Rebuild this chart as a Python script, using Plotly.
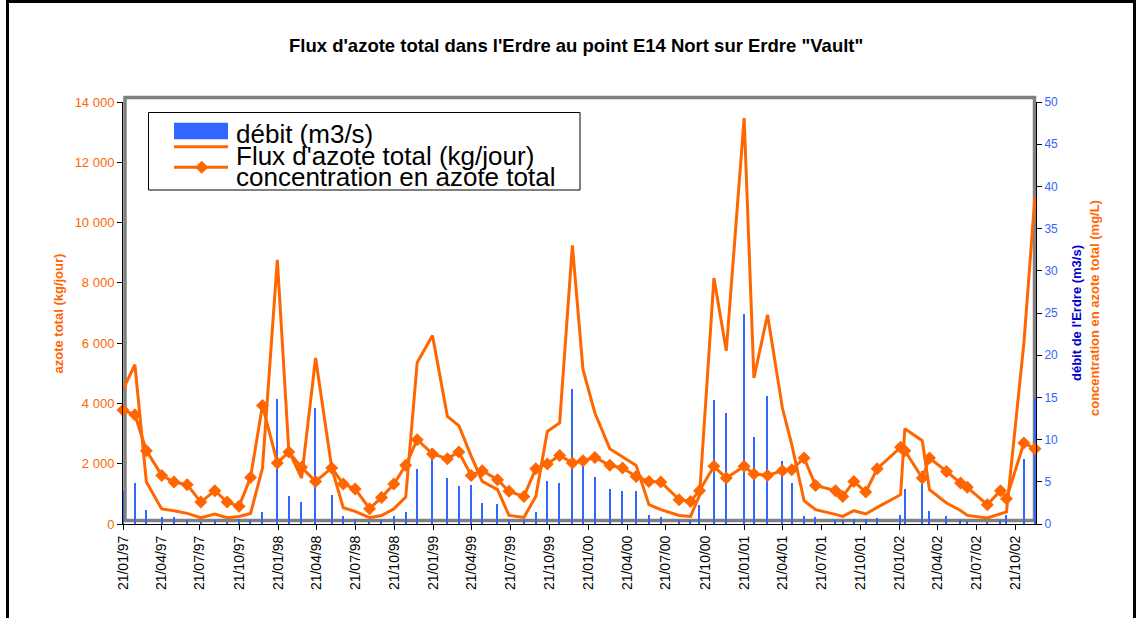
import plotly.graph_objects as go

# Sampling dates (dd/mm/yy on the axis)
dates = [
    "1997-01-21", "1997-02-18", "1997-03-17", "1997-04-22", "1997-05-21", "1997-06-21",
    "1997-07-23", "1997-08-25", "1997-09-23", "1997-10-21", "1997-11-17", "1997-12-15",
    "1998-01-19", "1998-02-15", "1998-03-17", "1998-04-19", "1998-05-27", "1998-06-23",
    "1998-07-21", "1998-08-24", "1998-09-21", "1998-10-20", "1998-11-17", "1998-12-14",
    "1999-01-19", "1999-02-23", "1999-03-22", "1999-04-20", "1999-05-16", "1999-06-21",
    "1999-07-18", "1999-08-22", "1999-09-19", "1999-10-16", "1999-11-14", "1999-12-14",
    "2000-01-08", "2000-02-05", "2000-03-11", "2000-04-10", "2000-05-12", "2000-06-11",
    "2000-07-09", "2000-08-21", "2000-09-17", "2000-10-08", "2000-11-11", "2000-12-10",
    "2001-01-21", "2001-02-13", "2001-03-17", "2001-04-21", "2001-05-13", "2001-06-11",
    "2001-07-08", "2001-08-24", "2001-09-10", "2001-10-06", "2001-11-03", "2001-11-30",
    "2002-01-24", "2002-02-03", "2002-03-16", "2002-04-02", "2002-05-12", "2002-06-14",
    "2002-06-30", "2002-08-16", "2002-09-16", "2002-09-30", "2002-11-10", "2002-12-06",
]

# River discharge (m3/s), right axis
debit = [
    3.86, 4.8, 1.69, 0.78, 0.78, 0.45, 0.19, 0.51, 0.19, 0.55, 0.45, 1.47,
    14.85, 3.27, 2.58, 13.8, 3.47, 1.0, 0.55, 0.19, 0.47, 0.9, 1.37, 6.48,
    9.05, 5.5, 4.55, 4.66, 2.54, 2.41, 0.51, 0.43, 1.46, 5.13, 4.89, 16.04,
    8.0, 5.62, 4.2, 3.96, 3.95, 1.1, 0.88, 0.51, 0.45, 2.25, 14.73, 13.17,
    24.88, 10.35, 15.2, 7.5, 4.9, 0.98, 0.88, 0.51, 0.45, 0.6, 0.6, 0.75,
    1.1, 4.18, 6.32, 1.58, 0.98, 0.59, 0.41, 0.12, 0.51, 1.1, 7.74, 15.0,
]

# Total nitrogen flux (kg/jour), left axis
flux = [
    4455, 5284, 1393, 498, 441, 352, 210, 332, 210, 252, 350, 1850,
    8767, 2430, 1526, 5506, 1860, 540, 420, 210, 280, 500, 890, 5361,
    6257, 3570, 3262, 2250, 1414, 1138, 285, 219, 916, 3072, 3350, 9241,
    5118, 3682, 2498, 2243, 1944, 640, 474, 285, 252, 950, 8160, 5748,
    13467, 4843, 6943, 3848, 2630, 773, 474, 320, 252, 441, 332, 551,
    972, 3161, 2763, 1138, 696, 450, 285, 199, 320, 400, 6000, 10850,
]

# Total nitrogen concentration (mg/L), right axis
conc = [
    13.5, 12.95, 8.69, 5.76, 4.98, 4.66, 2.6, 3.95, 2.6, 2.09, 5.52, 14.05,
    7.23, 8.53, 6.71, 5.05, 6.64, 4.74, 4.15, 1.81, 3.15, 4.74, 6.95, 9.99,
    8.3, 7.74, 8.53, 5.76, 6.32, 5.25, 3.87, 3.27, 6.55, 7.11, 8.13, 7.23,
    7.5, 7.89, 6.95, 6.64, 5.64, 5.05, 4.98, 2.88, 2.68, 3.95, 6.83, 5.45,
    6.83, 5.93, 5.76, 6.32, 6.43, 7.82, 4.57, 3.95, 3.27, 5.05, 3.79, 6.55,
    9.08, 8.69, 5.45, 7.82, 6.23, 4.86, 4.34, 2.29, 3.95, 3.0, 9.6, 8.92,
]

flux_ticks = list(range(0, 14001, 2000))

ORANGE = "#FF6600"
BLUE = "#3366FF"
DARK_BLUE = "#0000CC"
FONT = "Liberation Sans, Arial, sans-serif"

# figure geometry (pixels) used to place decorations in paper coordinates
FIG_W, FIG_H = 1137, 618
L, R, T, B = 123, 101, 102, 94
W, H = FIG_W - L - R, FIG_H - T - B


def px(x):
    return (x - L) / W


def py(y):
    return (T + H - y) / H


DAY_MS = 86400000
bar_width = 3.0 * DAY_MS

fig = go.Figure()

fig.add_trace(go.Bar(
    x=dates, y=debit, yaxis="y2", name="débit (m3/s)",
    width=bar_width, marker=dict(color=BLUE, line=dict(width=0)),
    showlegend=False,
))

fig.add_trace(go.Scatter(
    x=dates, y=flux, mode="lines", name="Flux d'azote total (kg/jour)",
    line=dict(color=ORANGE, width=3), cliponaxis=False, showlegend=False,
))

fig.add_trace(go.Scatter(
    x=dates, y=conc, yaxis="y2", mode="lines+markers",
    name="concentration en azote total",
    line=dict(color=ORANGE, width=3),
    marker=dict(symbol="diamond", size=10, color=ORANGE, line=dict(width=0)),
    cliponaxis=False, showlegend=False,
))

shapes = [
    # outer chart border
    dict(type="rect", xref="paper", yref="paper",
         x0=px(7.5), x1=px(1134.5), y0=py(640), y1=py(1.5),
         line=dict(color="black", width=3), fillcolor="rgba(0,0,0,0)", layer="below"),
    # grey plot-area frame
    dict(type="rect", xref="paper", yref="paper",
         x0=px(125), x1=px(1034.5), y0=py(520.5), y1=py(97.5),
         line=dict(color="#808080", width=3.5), fillcolor="rgba(0,0,0,0)", layer="below"),
    # legend box
    dict(type="rect", xref="paper", yref="paper",
         x0=px(148.5), x1=px(580), y0=py(190), y1=py(112.5),
         line=dict(color="black", width=1), fillcolor="white", layer="above"),
    # legend swatches
    dict(type="rect", xref="paper", yref="paper",
         x0=px(174), x1=px(228), y0=py(139.3), y1=py(122.7),
         line=dict(width=0), fillcolor=BLUE, layer="above"),
    dict(type="line", xref="paper", yref="paper",
         x0=px(174), x1=px(228), y0=py(146.7), y1=py(146.7),
         line=dict(color=ORANGE, width=3), layer="above"),
    dict(type="line", xref="paper", yref="paper",
         x0=px(174), x1=px(228), y0=py(167.3), y1=py(167.3),
         line=dict(color=ORANGE, width=3), layer="above"),
]

# diamond symbol of the concentration legend entry
cx, cy, hw = 201.7, 167.3, 6.5
diamond = "M {},{} L {},{} L {},{} L {},{} Z".format(
    px(cx - hw), py(cy), px(cx), py(cy - hw), px(cx + hw), py(cy), px(cx), py(cy + hw))
shapes.append(dict(type="path", xref="paper", yref="paper", path=diamond,
                   fillcolor=ORANGE, line=dict(width=0), layer="above"))

annotations = [
    dict(text="<b>Flux d'azote total dans l'Erdre au point E14 Nort sur Erdre \"Vault\"</b>",
         x=px(576), y=py(46), xref="paper", yref="paper", xanchor="center", yanchor="middle",
         showarrow=False, font=dict(family=FONT, size=18.5, color="black")),
    dict(text="<b>azote total (kg/jour)</b>", x=px(57.5), y=py(314), xref="paper", yref="paper",
         textangle=-90, xanchor="center", yanchor="middle", showarrow=False,
         font=dict(family=FONT, size=13, color=ORANGE)),
    dict(text="<b>débit de l'Erdre (m3/s)</b>", x=px(1076), y=py(313), xref="paper", yref="paper",
         textangle=-90, xanchor="center", yanchor="middle", showarrow=False,
         font=dict(family=FONT, size=13, color=DARK_BLUE)),
    dict(text="<b>concentration en azote total (mg/L)</b>", x=px(1094), y=py(308),
         xref="paper", yref="paper", textangle=-90, xanchor="center", yanchor="middle",
         showarrow=False, font=dict(family=FONT, size=13, color=ORANGE)),
]

legend_labels = [
    ("débit (m3/s)", 134),
    ("Flux d'azote total (kg/jour)", 156),
    ("concentration en azote total", 177),
]
for label, yc in legend_labels:
    annotations.append(dict(text=label, x=px(234), y=py(yc), xref="paper", yref="paper",
                            xanchor="left", yanchor="middle", showarrow=False,
                            font=dict(family=FONT, size=26, color="black")))

fig.update_layout(
    width=FIG_W, height=FIG_H,
    margin=dict(l=L, r=R, t=T, b=B),
    paper_bgcolor="white", plot_bgcolor="white",
    separators=", ",
    font=dict(family=FONT, color="black"),
    bargap=0,
    showlegend=False,
    xaxis=dict(
        type="date",
        range=["1997-01-21", "2002-12-08 12:00"],
        tickmode="linear", tick0="1997-01-21", dtick="M3",
        tickformat="%d/%m/%y", tickangle=-90,
        ticks="outside", ticklen=5, tickcolor="black",
        showline=True, linecolor="black", linewidth=1,
        showgrid=False, zeroline=False,
        tickfont=dict(family=FONT, size=14, color="black"),
    ),
    yaxis=dict(
        range=[0, 14000], tickmode="array", tickvals=flux_ticks,
        tickformat=",d",
        ticks="outside", ticklen=5, tickcolor="black",
        showline=True, linecolor="black", linewidth=1,
        showgrid=False, zeroline=False,
        tickfont=dict(family=FONT, size=13, color=ORANGE),
    ),
    yaxis2=dict(
        range=[0, 50], overlaying="y", side="right",
        tickmode="linear", tick0=0, dtick=5,
        ticks="outside", ticklen=5, tickcolor="black",
        showline=True, linecolor="black", linewidth=1,
        showgrid=False, zeroline=False,
        tickfont=dict(family=FONT, size=12, color=BLUE),
    ),
    shapes=shapes,
    annotations=annotations,
)

fig.write_html("out.html")
